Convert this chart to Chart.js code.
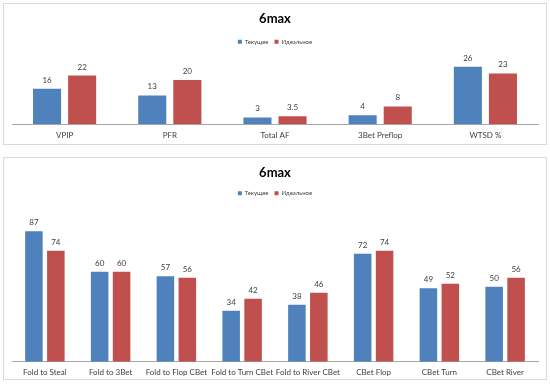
<!DOCTYPE html>
<html>
<head>
<meta charset="utf-8">
<script src="https://cdn.jsdelivr.net/npm/chart.js@4"></script>
<style>
  body { margin: 0; background: #fff; width: 550px; height: 385px; position: relative; overflow: hidden; }
  .box { position: absolute; border: 1px solid #d9d9d9; background: #fff; }
  #box1 { left: 3px; top: 3px; width: 542px; height: 140px; }
  #box2 { left: 3px; top: 157px; width: 542px; height: 221px; }
</style>
</head>
<body>
<div class="box" id="box1"><canvas id="chart1"></canvas></div>
<div class="box" id="box2"><canvas id="chart2"></canvas></div>
<script>
// data
const seriesNames = ['Текущее', 'Идеальное'];

const topCategories = ['VPIP', 'PFR', 'Total AF', '3Bet Preflop', 'WTSD %'];
const topCurrent = [16, 13, 3, 4, 26];
const topIdeal = [22, 20, 3.5, 8, 23];

const bottomCategories = ['Fold to Steal', 'Fold to 3Bet', 'Fold to Flop CBet', 'Fold to Turn CBet',
  'Fold to River CBet', 'CBet Flop', 'CBet Turn', 'CBet River'];
const bottomCurrent = [87, 60, 57, 34, 38, 72, 49, 50];
const bottomIdeal = [74, 60, 56, 42, 46, 74, 52, 56];

Chart.defaults.font.family = 'Lato, "Open Sans", sans-serif';
Chart.defaults.color = '#404040';

// value labels above each bar
const valueLabels = {
  id: 'valueLabels',
  afterDatasetsDraw(chart) {
    const ctx = chart.ctx;
    ctx.save();
    ctx.font = '8px Lato, "Open Sans", sans-serif';
    ctx.fillStyle = '#404040';
    ctx.textAlign = 'center';
    ctx.textBaseline = 'middle';
    chart.data.datasets.forEach((ds, i) => {
      chart.getDatasetMeta(i).data.forEach((bar, j) => {
        ctx.fillText(String(ds.data[j]), bar.x, bar.y - 8.5);
      });
    });
    ctx.restore();
  }
};

function makeChart(id, labels, current, ideal, o) {
  return new Chart(document.getElementById(id), {
    type: 'bar',
    data: {
      labels: labels,
      datasets: [
        { label: seriesNames[0], data: current, backgroundColor: '#4F81BD' },
        { label: seriesNames[1], data: ideal, backgroundColor: '#C0504D' }
      ]
    },
    options: {
      responsive: true,
      maintainAspectRatio: false,
      animation: false,
      categoryPercentage: 0.667,
      barPercentage: 0.8,
      layout: { padding: { left: 8, right: 8, top: 0, bottom: o.padBottom } },
      plugins: {
        title: {
          display: true,
          text: '6max',
          color: '#000',
          font: { size: 13, weight: 'bold' },
          padding: { top: o.titleTop, bottom: o.titleBottom }
        },
        legend: {
          position: 'top',
          labels: { boxWidth: 4, boxHeight: 4, padding: 6, font: { size: 6 }, color: '#404040' }
        },
        tooltip: { enabled: false }
      },
      scales: {
        x: {
          grid: { display: true, drawOnChartArea: false, drawTicks: false },
          border: { display: true, color: '#a6a6a6', width: 1 },
          ticks: { padding: o.tickPad, font: { size: 8 }, color: '#404040', maxRotation: 0, autoSkip: false }
        },
        y: { display: false, min: 0, max: o.yMax }
      }
    },
    plugins: [valueLabels]
  });
}

makeChart('chart1', topCategories, topCurrent, topIdeal,
  { yMax: 31.5, titleTop: 7.2, titleBottom: 5.9, tickPad: 7, padBottom: -3.6 });
makeChart('chart2', bottomCategories, bottomCurrent, bottomIdeal,
  { yMax: 103.6, titleTop: 6.9, titleBottom: 3.8, tickPad: 6, padBottom: -4.3 });
</script>
</body>
</html>
